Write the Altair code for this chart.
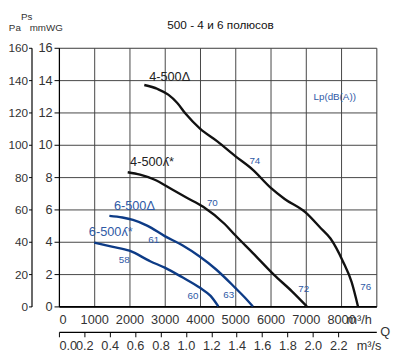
import altair as alt
import pandas as pd

title_text = "500 - 4 и 6 полюсов"

# fan curves: Q (m³/h) vs Ps (mmWG)
q_4d = [2420, 2800, 3100, 3350, 3600, 4000, 4500, 5000, 5500, 6000, 6400, 7000, 7400, 7700, 8050, 8300, 8480]
p_4d = [13.7, 13.45, 13.1, 12.6, 11.9, 11.0, 10.2, 9.3, 8.45, 7.35, 6.65, 5.8, 4.9, 4.2, 2.8, 1.5, 0.0]
q_4y = [1950, 2300, 2700, 3200, 3600, 4100, 4700, 5000, 5500, 6100, 6600, 7030]
p_4y = [8.3, 8.15, 7.85, 7.25, 6.75, 6.15, 5.1, 4.4, 3.3, 1.95, 0.95, 0.0]
q_6d = [1430, 1800, 2100, 2500, 3000, 3500, 4000, 4450, 5000, 5250, 5500]
p_6d = [5.6, 5.5, 5.35, 5.0, 4.35, 3.78, 3.07, 2.3, 1.15, 0.6, 0.0]
q_6y = [1000, 1500, 2000, 2600, 3000, 3500, 4000, 4300, 4520]
p_6y = [3.95, 3.7, 3.45, 2.78, 2.4, 1.8, 1.15, 0.65, 0.0]

series_names = ["4-500D", "4-500Y", "6-500D", "6-500Y"]
series_q = [q_4d, q_4y, q_6d, q_6y]
series_p = [p_4d, p_4y, p_6d, p_6y]
series_col = ["#111111", "#111111", "#0d3b86", "#0d3b86"]

# text labels on the chart
lab_text = ["4-500Δ", "4-500ʎ*", "6-500Δ", "6-500ʎ*"]
lab_q = [3140, 2640, 2140, 1470]
lab_p = [14.18, 8.93, 6.2, 4.6]
lab_col = ["#222222", "#222222", "#2f5aa6", "#2f5aa6"]

db_text = ["74", "70", "72", "76", "61", "58", "60", "63", "Lp(dB(A))"]
db_q = [5555, 4350, 6940, 8700, 2685, 1850, 3800, 4815, 7820]
db_p = [9.0, 6.4, 1.05, 1.19, 4.08, 2.87, 0.65, 0.71, 12.97]

x_ticks = list(range(0, 9001, 1000))
y_ticks = list(range(0, 17, 2))
pa_ticks = list(range(0, 161, 20))
qs_ticks = [0.0, 0.2, 0.4, 0.6, 0.8, 1.0, 1.2, 1.4, 1.6, 1.8, 2.0, 2.2, 2.4]

rows = []
for n, qs, ps, c in zip(series_names, series_q, series_p, series_col):
    for q, p in zip(qs, ps):
        rows.append({"series": n, "q": q, "p": p, "col": c})
curves = pd.DataFrame(rows)
labels = pd.DataFrame({"t": lab_text, "q": lab_q, "p": lab_p, "col": lab_col})
dbs = pd.DataFrame({"t": db_text, "q": db_q, "p": db_p})

FONT = "Liberation Sans"
xs = alt.Scale(domain=[0, 9000], nice=False, zero=False)
ys = alt.Scale(domain=[0, 16], nice=False, zero=False)

lines = alt.Chart(curves).mark_line(strokeWidth=2.4, interpolate="monotone").encode(
    x=alt.X("q:Q", scale=xs, axis=alt.Axis(
        title=None, values=x_ticks, format="d", grid=True, ticks=False, tickSize=0,
        labelExpr="datum.value >= 9000 ? 'm³/h' : datum.label", labelOverlap=False,
        labelOffset={"condition": {"test": "datum.value >= 9000", "value": -5}, "value": 0},
        labelPadding=7, labelFontSize=13, labelColor="#333", labelFont=FONT,
        domainColor="#000", domainWidth=1.6, gridColor="#444", gridWidth=1, orient="bottom")),
    y=alt.Y("p:Q", scale=ys, axis=alt.Axis(
        title=None, values=y_ticks, grid=True, tickSize=5, tickColor="#000", labelOverlap=False,
        labelPadding=2, labelFontSize=13, labelColor="#333", labelFont=FONT,
        domainColor="#000", domainWidth=1.2, gridColor="#444", gridWidth=1, orient="left")),
    detail="series:N",
    color=alt.Color("col:N", scale=None),
)

lab_layer = alt.Chart(labels).mark_text(fontSize=13, font=FONT).encode(
    x=alt.X("q:Q", scale=xs, axis=None),
    y=alt.Y("p:Q", scale=ys, axis=None),
    text="t:N",
    color=alt.Color("col:N", scale=None),
)

db_layer = alt.Chart(dbs).mark_text(fontSize=10, font=FONT, color="#2f5aa6").encode(
    x=alt.X("q:Q", scale=xs, axis=None),
    y=alt.Y("p:Q", scale=ys, axis=None),
    text="t:N",
)

dummy = alt.Chart(pd.DataFrame({"qs": [0.0, 2.5], "pa": [0, 160]})).mark_point(opacity=0).encode(
    x=alt.X("qs:Q", scale=alt.Scale(domain=[0, 2.5], nice=False, zero=False), axis=alt.Axis(
        title=None, orient="bottom", offset=26, values=qs_ticks, format=".1f", labelOverlap=False,
        labelExpr="datum.value > 2.3 ? 'm³/s' : datum.label",
        labelOffset={"condition": {"test": "datum.value > 2.3", "value": 5}, "value": 0},
        tickOpacity={"condition": {"test": "datum.value > 2.3", "value": 0}, "value": 1},
        tickSize=5, tickColor="#000", labelPadding=3, labelFontSize=13, labelColor="#333",
        labelFont=FONT, domainColor="#000", domainWidth=1.2, grid=False)),
    y=alt.Y("pa:Q", scale=alt.Scale(domain=[0, 160], nice=False, zero=False), axis=alt.Axis(
        title=None, orient="left", offset=28, values=pa_ticks, tickSize=3, tickColor="#000",
        labelOverlap=False, labelPadding=1, labelFontSize=12, labelColor="#333", labelFont=FONT,
        domainColor="#000", domainWidth=1.2, grid=False)),
)

def note(txt, x, y, size, color="#333", weight="normal"):
    return alt.Chart(pd.DataFrame({"t": [txt]})).mark_text(
        fontSize=size, font=FONT, color=color, fontWeight=weight).encode(
        x=alt.value(x), y=alt.value(y), text="t:N")

chart = alt.layer(
    lines, lab_layer, db_layer, dummy,
    note(title_text, 165, -23, 12, "#111"),
    note("Ps", -33, -31, 10),
    note("Pa", -45, -20, 10),
    note("mmWG", -13, -20, 10),
    note("Q", 333, 290, 13),
).resolve_scale(x="independent", y="independent").properties(
    width=324, height=264,
    padding={"left": 52, "top": 37, "right": 16, "bottom": 48},
    autosize=alt.AutoSizeParams(type="none"),
).configure_view(stroke="#222", strokeWidth=1.5).configure(background="white")

chart.save("out.html", embed_options={"renderer": "svg", "actions": False})
